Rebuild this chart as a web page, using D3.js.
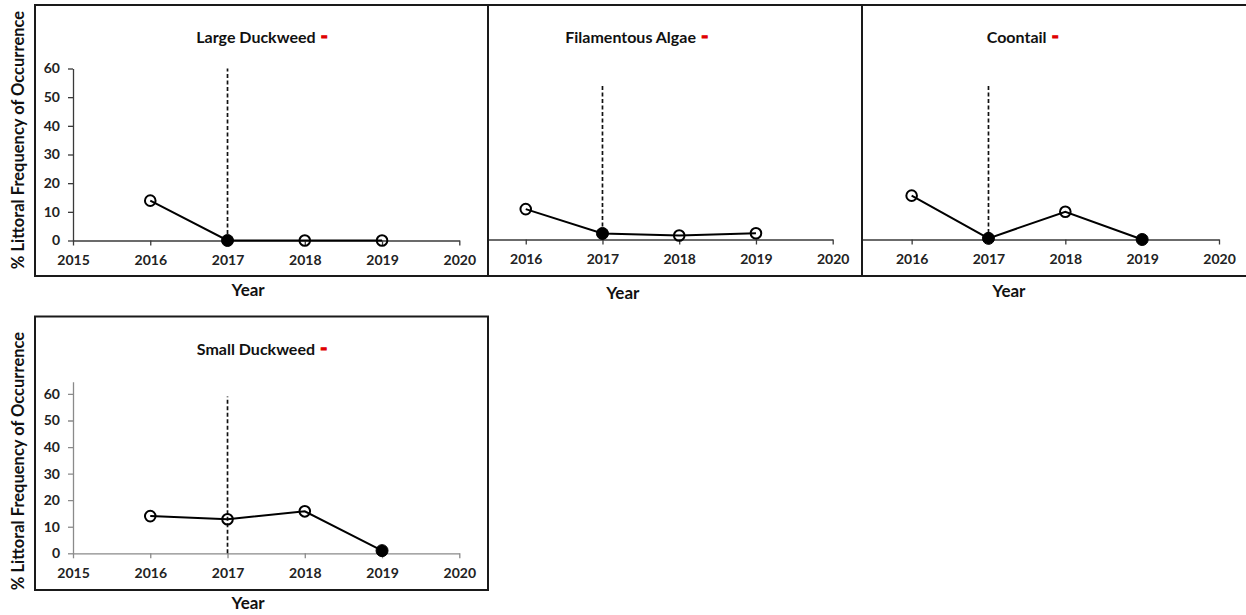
<!DOCTYPE html>
<html>
<head>
<meta charset="utf-8">
<script src="https://cdn.jsdelivr.net/npm/d3@7"></script>
<style>
  html, body { margin: 0; padding: 0; background: #fff; }
  svg { display: block; font-family: Lato, "Open Sans", sans-serif; font-weight: 700; }
</style>
</head>
<body>
<svg id="chart" width="1246" height="615"></svg>
<script>
// Survey years and axis ticks
const years = [2016, 2017, 2018, 2019];
const xTickYears = [2015, 2016, 2017, 2018, 2019, 2020];
const yTickValues = [0, 10, 20, 30, 40, 50, 60];

// Species shown, one panel each
const speciesNames = ["Large Duckweed", "Filamentous Algae", "Coontail", "Small Duckweed"];
const trendSymbols = ["-", "-", "-", "-"];

// % littoral frequency of occurrence per year
const largeDuckweed = [13.9, 0, 0, 0];
const filamentousAlgae = [10.6, 2.1, 1.4, 2.2];
const coontail = [15.3, 0.4, 9.7, 0];
const smallDuckweed = [14.0, 12.8, 15.8, 1.0];

// 1 = year differs significantly from 2016 (filled marker)
const largeDuckweedSig = [0, 1, 0, 0];
const filamentousAlgaeSig = [0, 1, 0, 0];
const coontailSig = [0, 1, 0, 1];
const smallDuckweedSig = [0, 0, 0, 1];

// Treatment year marker and its height in each panel
const treatmentYear = 2017;
const treatmentLineTop = [60, 54, 54, 59];

const seriesValues = [largeDuckweed, filamentousAlgae, coontail, smallDuckweed];
const seriesSig = [largeDuckweedSig, filamentousAlgaeSig, coontailSig, smallDuckweedSig];

// Panel geometry: frame box, plot x-range (2015..2020), y-range (0..yMax)
const panels = [
  { box: [35, 5, 453, 271], xr: [73, 459.3], yr: [240.5, 68.5], yMax: 60, yAxis: true, axisColor: "#3a3a3a", yearY: 296, yTitleCy: 140 },
  { box: [488, 5, 374, 271], xr: [449, 832.7], yr: [239.5, 67.5], yMax: 60, yAxis: false, axisColor: "#3a3a3a", yearY: 299 },
  { box: [862, 5, 420, 271], xr: [834.8, 1219], yr: [239.5, 67.5], yMax: 60, yAxis: false, axisColor: "#3a3a3a", yearY: 297 },
  { box: [35, 316.5, 453, 273.5], xr: [73, 459.3], yr: [553.3, 381.7], yMax: 64.6, yAxis: true, axisColor: "#8a8a8a", yearY: 609, yTitleCy: 461 }
];

const svg = d3.select("#chart");
const defs = svg.append("defs");

panels.forEach((p, i) => {
  const [bx, by, bw, bh] = p.box;
  const g = svg.append("g").attr("class", "panel");

  defs.append("clipPath").attr("id", "clip" + i)
    .append("rect").attr("x", bx + 1).attr("y", by + 1).attr("width", bw - 2).attr("height", bh - 2);

  const x = d3.scaleLinear().domain([2015, 2020]).range(p.xr);
  const y = d3.scaleLinear().domain([0, p.yMax]).range(p.yr);

  const inner = g.append("g").attr("clip-path", `url(#clip${i})`);

  // x axis (only ticks that fall inside the frame)
  const visibleYears = xTickYears.filter(v => x(v) > bx + 2);
  const xAxis = d3.axisBottom(x).tickValues(visibleYears).tickFormat(d3.format("d"))
    .tickSize(5).tickPadding(10).tickSizeOuter(0);
  const xg = inner.append("g").attr("transform", `translate(0,${y(0)})`).call(xAxis);
  xg.select(".domain").attr("stroke", p.axisColor).attr("stroke-width", 1.3);
  xg.selectAll(".tick line").attr("stroke", p.axisColor).attr("stroke-width", 1.3);
  xg.selectAll(".tick text").attr("fill", "#222").attr("font-size", 14)
    .attr("font-family", "Lato, sans-serif").attr("font-weight", 700);

  // y axis
  if (p.yAxis) {
    const yAxis = d3.axisLeft(y).tickValues(yTickValues).tickSize(5).tickPadding(8).tickSizeOuter(0);
    const yg = inner.append("g").attr("transform", `translate(${x(2015)},0)`).call(yAxis);
    yg.select(".domain").attr("stroke", p.axisColor).attr("stroke-width", 1.3);
    yg.selectAll(".tick line").attr("stroke", p.axisColor).attr("stroke-width", 1.3);
    yg.selectAll(".tick text").attr("fill", "#222").attr("font-size", 14)
      .attr("font-family", "Lato, sans-serif").attr("font-weight", 700);
  }

  // treatment year reference line
  inner.append("line")
    .attr("x1", x(treatmentYear)).attr("x2", x(treatmentYear))
    .attr("y1", y(0)).attr("y2", y(treatmentLineTop[i]))
    .attr("stroke", "#111").attr("stroke-width", 1.7).attr("stroke-dasharray", "4,2.5");

  // series line
  const pts = years.map((yr, k) => ({ year: yr, value: seriesValues[i][k], sig: seriesSig[i][k] }));
  inner.append("path").datum(pts)
    .attr("fill", "none").attr("stroke", "#000").attr("stroke-width", 2)
    .attr("d", d3.line().x(d => x(d.year)).y(d => y(d.value)));

  // markers
  inner.selectAll("circle.pt").data(pts).join("circle").attr("class", "pt")
    .attr("cx", d => x(d.year)).attr("cy", d => y(d.value))
    .attr("r", d => d.sig ? 6 : 5.3)
    .attr("fill", d => d.sig ? "#000" : "none")
    .attr("stroke", "#000").attr("stroke-width", d => d.sig ? 1 : 2);

  // title with trend indicator
  const tcx = (p.xr[0] + p.xr[1]) / 2 - 4;
  const title = g.append("text").attr("x", tcx).attr("y", p.box[1] + 38).attr("text-anchor", "middle")
    .attr("font-size", 16).attr("fill", "#111");
  title.append("tspan").text(speciesNames[i]);
  title.append("tspan").attr("dx", 5).attr("fill", "#e00000").attr("stroke", "#e00000")
    .attr("stroke-width", 0.9).attr("font-size", 20).text(trendSymbols[i]);

  // axis titles
  g.append("text").attr("x", (p.xr[0] + p.xr[1]) / 2 - 18).attr("y", p.yearY)
    .attr("text-anchor", "middle").attr("font-size", 17).attr("fill", "#111").text("Year");

  if (p.yAxis) {
    g.append("text").attr("transform", `translate(24,${p.yTitleCy}) rotate(-90)`)
      .attr("text-anchor", "middle").attr("font-size", 16.5).attr("fill", "#111")
      .text("% Littoral Frequency of Occurrence");
  }

  // frame
  g.append("rect").attr("x", bx).attr("y", by).attr("width", bw).attr("height", bh)
    .attr("fill", "none").attr("stroke", "#1a1a1a").attr("stroke-width", 2);
});
</script>
</body>
</html>
